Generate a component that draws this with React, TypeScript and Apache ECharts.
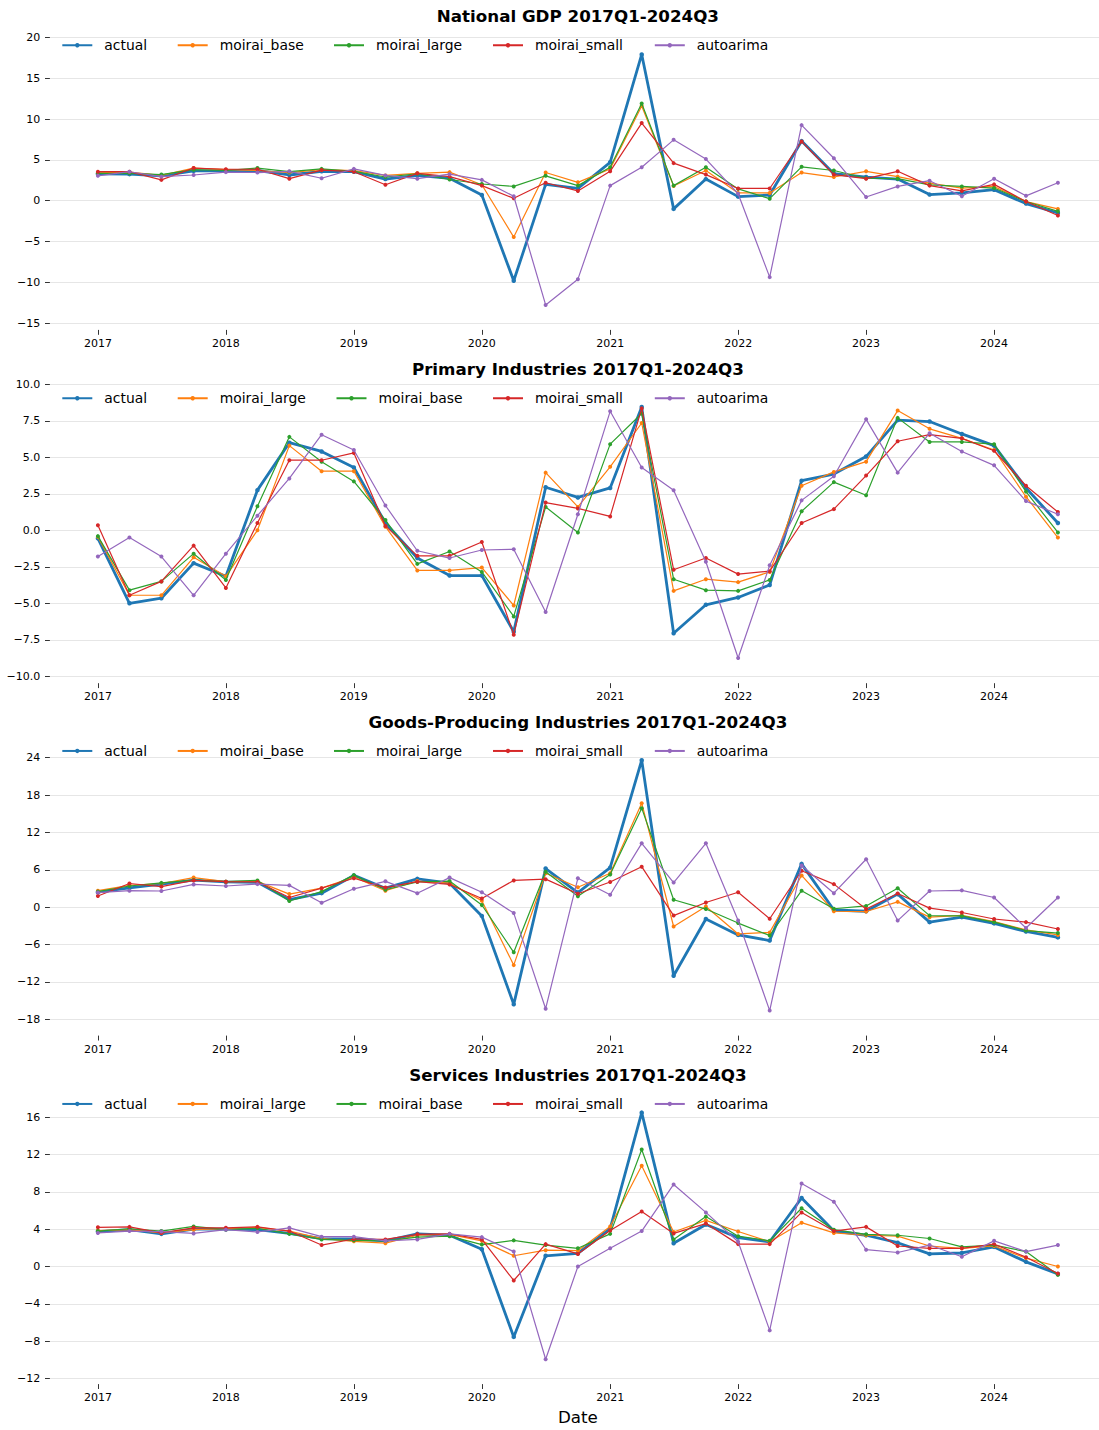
import React, { useEffect, useRef } from "react";
import * as echarts from "echarts";

const quarters = [
  "2017Q1", "2017Q2", "2017Q3", "2017Q4", "2018Q1", "2018Q2", "2018Q3", "2018Q4",
  "2019Q1", "2019Q2", "2019Q3", "2019Q4", "2020Q1", "2020Q2", "2020Q3", "2020Q4",
  "2021Q1", "2021Q2", "2021Q3", "2021Q4", "2022Q1", "2022Q2", "2022Q3", "2022Q4",
  "2023Q1", "2023Q2", "2023Q3", "2023Q4", "2024Q1", "2024Q2", "2024Q3",
];
const yearTicks = [2017, 2018, 2019, 2020, 2021, 2022, 2023, 2024];

// ---- National GDP ----
const gdpNames = ["actual", "moirai_base", "moirai_large", "moirai_small", "autoarima"];
const gdpActual = [3.3, 3.25, 3.05, 3.65, 3.65, 3.7, 3.15, 3.6, 3.55, 2.65, 3.1, 2.75, 0.7, -9.8, 2.0, 1.5, 4.7, 17.9, -1.0, 2.65, 0.5, 0.7, 7.3, 3.3, 2.9, 2.65, 0.75, 0.95, 1.35, -0.35, -1.5];
const gdpBase = [3.4, 3.5, 3.1, 4.0, 3.8, 3.7, 3.45, 3.8, 3.7, 3.1, 3.35, 3.5, 1.95, -4.45, 3.45, 2.25, 3.9, 11.6, 1.8, 3.7, 0.95, 0.95, 3.45, 2.9, 3.6, 2.95, 2.15, 1.55, 1.75, -0.1, -1.0];
const gdpLarge = [3.35, 3.35, 3.2, 3.8, 3.7, 4.0, 3.55, 3.9, 3.6, 2.9, 3.3, 2.6, 2.05, 1.75, 3.05, 1.85, 4.1, 11.9, 1.85, 4.1, 1.45, 0.25, 4.15, 3.7, 2.75, 2.7, 1.95, 1.75, 1.55, -0.1, -1.3];
const gdpSmall = [3.55, 3.55, 2.55, 4.0, 3.85, 3.85, 2.7, 3.75, 3.55, 1.95, 3.35, 2.95, 1.85, 0.3, 2.2, 1.2, 3.6, 9.5, 4.6, 3.2, 1.5, 1.5, 7.25, 3.2, 2.7, 3.6, 1.85, 1.2, 2.0, -0.1, -1.8];
const gdpArima = [3.05, 3.55, 2.95, 3.15, 3.5, 3.45, 3.6, 2.75, 3.9, 3.1, 2.7, 3.25, 2.55, 0.55, -12.75, -9.6, 1.85, 4.1, 7.45, 5.1, 0.85, -9.35, 9.25, 5.2, 0.45, 1.75, 2.45, 0.55, 2.7, 0.6, 2.2];

// ---- Primary Industries ----
const priNames = ["actual", "moirai_large", "moirai_base", "moirai_small", "autoarima"];
const priActual = [-0.55, -5.0, -4.65, -2.25, -3.15, 2.75, 6.0, 5.4, 4.3, 0.5, -1.9, -3.1, -3.1, -6.95, 2.95, 2.25, 2.9, 8.45, -7.05, -5.1, -4.6, -3.75, 3.4, 3.85, 5.05, 7.55, 7.45, 6.6, 5.8, 2.9, 0.5];
const priLarge = [-0.45, -4.45, -4.45, -1.85, -3.15, 0.0, 5.8, 4.05, 4.05, 0.25, -2.75, -2.75, -2.55, -5.15, 3.95, 1.6, 4.35, 7.35, -4.15, -3.35, -3.55, -2.85, 3.05, 4.0, 4.7, 8.2, 6.95, 6.3, 5.5, 2.3, -0.5];
const priBase = [-0.4, -4.1, -3.5, -1.6, -3.4, 1.65, 6.4, 4.7, 3.35, 0.7, -2.3, -1.45, -2.85, -5.9, 1.6, -0.15, 5.9, 8.0, -3.35, -4.1, -4.15, -3.4, 1.3, 3.3, 2.4, 7.7, 6.05, 6.05, 5.9, 2.65, -0.15];
const priSmall = [0.35, -4.45, -3.5, -1.05, -3.95, 0.5, 4.8, 4.8, 5.3, 0.3, -1.75, -1.75, -0.8, -7.15, 1.9, 1.5, 0.95, 8.35, -2.7, -1.9, -3.0, -2.8, 0.5, 1.45, 3.75, 6.1, 6.55, 6.3, 5.45, 3.05, 1.25];
const priArima = [-1.8, -0.5, -1.8, -4.45, -1.6, 1.0, 3.55, 6.55, 5.5, 1.7, -1.4, -1.9, -1.35, -1.3, -5.6, 1.1, 8.15, 4.3, 2.75, -2.15, -8.75, -2.4, 2.05, 3.7, 7.6, 3.95, 6.65, 5.4, 4.45, 2.0, 1.1];

// ---- Goods-Producing Industries ----
const goodsNames = ["actual", "moirai_base", "moirai_large", "moirai_small", "autoarima"];
const goodsActual = [2.4, 3.1, 3.7, 4.35, 4.05, 4.0, 1.2, 2.25, 5.1, 3.05, 4.55, 3.85, -1.4, -15.6, 6.2, 2.35, 6.35, 23.6, -11.0, -1.9, -4.45, -5.35, 6.95, -0.45, -0.65, 2.1, -2.4, -1.6, -2.6, -3.9, -4.85];
const goodsBase = [2.65, 3.5, 3.8, 4.75, 4.1, 4.15, 2.1, 3.05, 4.85, 2.65, 4.2, 3.85, 1.05, -9.3, 5.45, 3.2, 5.45, 16.7, -3.1, 0.1, -4.3, -4.05, 5.1, -0.65, -0.7, 0.85, -1.6, -1.3, -2.3, -3.65, -4.45];
const goodsLarge = [2.5, 3.4, 3.9, 4.35, 4.1, 4.3, 1.0, 2.5, 5.15, 2.8, 4.05, 4.2, 0.35, -7.25, 5.7, 1.75, 5.25, 15.9, 1.2, -0.3, -2.55, -4.55, 2.65, -0.25, 0.2, 3.05, -1.35, -1.4, -2.4, -3.75, -4.15];
const goodsSmall = [1.8, 3.8, 3.3, 4.3, 4.1, 4.05, 1.55, 3.05, 4.65, 3.15, 4.1, 3.65, 1.4, 4.3, 4.5, 2.15, 4.05, 6.5, -1.35, 0.75, 2.4, -1.85, 5.85, 3.7, -0.3, 2.2, -0.15, -0.85, -1.9, -2.4, -3.5];
const goodsArima = [2.35, 2.65, 2.6, 3.65, 3.4, 3.7, 3.5, 0.7, 2.95, 4.15, 2.25, 4.75, 2.4, -0.95, -16.3, 4.65, 2.0, 10.25, 3.95, 10.25, -2.15, -16.6, 6.7, 2.25, 7.7, -2.15, 2.6, 2.7, 1.55, -3.35, 1.55];

// ---- Services Industries ----
const servNames = ["actual", "moirai_large", "moirai_base", "moirai_small", "autoarima"];
const servActual = [3.75, 3.95, 3.5, 4.0, 4.0, 3.95, 3.55, 3.0, 2.95, 2.75, 3.5, 3.35, 1.85, -7.55, 1.15, 1.4, 4.05, 16.5, 2.5, 4.5, 3.1, 2.65, 7.35, 3.8, 3.35, 2.55, 1.35, 1.45, 2.1, 0.5, -0.8];
const servLarge = [3.85, 3.95, 3.6, 3.95, 4.05, 4.2, 3.8, 3.0, 2.7, 2.5, 3.35, 3.45, 2.75, 1.15, 1.75, 1.7, 4.3, 10.8, 3.7, 4.95, 3.75, 2.65, 4.7, 3.6, 3.35, 3.25, 2.2, 1.95, 2.2, 0.9, 0.0];
const servBase = [3.8, 4.05, 3.8, 4.3, 3.95, 4.1, 3.5, 2.9, 2.8, 2.75, 3.15, 3.25, 2.35, 2.8, 2.3, 1.95, 3.5, 12.55, 2.9, 5.35, 3.25, 2.75, 6.25, 3.95, 3.45, 3.35, 3.0, 2.1, 2.3, 1.6, -0.9];
const servSmall = [4.2, 4.25, 3.6, 4.15, 4.15, 4.25, 3.8, 2.3, 2.95, 2.9, 3.45, 3.5, 2.9, -1.5, 2.4, 1.35, 3.85, 5.9, 3.55, 4.6, 2.4, 2.4, 5.8, 3.8, 4.25, 2.2, 1.95, 1.95, 2.4, 1.0, -0.75];
const servArima = [3.6, 3.8, 3.75, 3.55, 3.95, 3.7, 4.15, 3.2, 3.2, 2.75, 2.9, 3.5, 3.15, 1.6, -9.95, 0.0, 1.95, 3.8, 8.8, 5.8, 2.65, -6.85, 8.9, 6.95, 1.8, 1.5, 2.3, 1.05, 2.75, 1.6, 2.3];

const COLORS = ["#1f77b4", "#ff7f0e", "#2ca02c", "#d62728", "#9467bd"];
const FONT = "'DejaVu Sans', 'Liberation Sans', sans-serif";

const quarterTs = quarters.map((q) =>
  Date.UTC(parseInt(q.slice(0, 4), 10), (parseInt(q.slice(5), 10) - 1) * 3, 1)
);
const yearTs = yearTicks.map((y) => Date.UTC(y, 0, 1));
const t0 = quarterTs[0];
const t1 = quarterTs[quarterTs.length - 1];
const X_MIN = t0 - 0.05 * (t1 - t0);
const X_MAX = t1 + 0.05 * (t1 - t0);

type PanelCfg = {
  title: string;
  names: string[];
  values: number[][];
  yMin: number;
  yMax: number;
  yInterval: number;
  decimals: number;
  divTop: number;
  divHeight: number;
  titleCenter: number;
  legendCenter: number;
  legendLefts: number[];
  gridTop: number;
  gridHeight: number;
  xOffset: number;
  showDate: boolean;
};

const LEG_A = [61.3, 176.7, 333, 492, 653.8];
const LEG_B = [61.3, 176.7, 335.5, 492, 653.8];

const panels: PanelCfg[] = [
  {
    title: "National GDP 2017Q1-2024Q3",
    names: gdpNames,
    values: [gdpActual, gdpBase, gdpLarge, gdpSmall, gdpArima],
    yMin: -15, yMax: 20, yInterval: 5, decimals: 0,
    divTop: 0, divHeight: 353,
    titleCenter: 16, legendCenter: 41, legendLefts: LEG_A,
    gridTop: 37.3, gridHeight: 286, xOffset: 6.6, showDate: false,
  },
  {
    title: "Primary Industries 2017Q1-2024Q3",
    names: priNames,
    values: [priActual, priLarge, priBase, priSmall, priArima],
    yMin: -10, yMax: 10, yInterval: 2.5, decimals: 1,
    divTop: 353, divHeight: 353,
    titleCenter: 16, legendCenter: 41, legendLefts: LEG_B,
    gridTop: 31.3, gridHeight: 292, xOffset: 6.9, showDate: false,
  },
  {
    title: "Goods-Producing Industries 2017Q1-2024Q3",
    names: goodsNames,
    values: [goodsActual, goodsBase, goodsLarge, goodsSmall, goodsArima],
    yMin: -18, yMax: 24, yInterval: 6, decimals: 0,
    divTop: 706, divHeight: 353,
    titleCenter: 16, legendCenter: 40.7, legendLefts: LEG_A,
    gridTop: 51.7, gridHeight: 261.6, xOffset: 16.3, showDate: false,
  },
  {
    title: "Services Industries 2017Q1-2024Q3",
    names: servNames,
    values: [servActual, servLarge, servBase, servSmall, servArima],
    yMin: -12, yMax: 16, yInterval: 4, decimals: 0,
    divTop: 1059, divHeight: 371,
    titleCenter: 15.7, legendCenter: 40.7, legendLefts: LEG_B,
    gridTop: 58.3, gridHeight: 266, xOffset: 5.7, showDate: true,
  },
];

const DIV_WIDTH = 1112;
const GRID_LEFT = 49.9;
const GRID_WIDTH = 1056;
const AXES_CENTER = GRID_LEFT + GRID_WIDTH / 2;

function buildOption(p: PanelCfg) {
  const legendItemH = 5.5;
  return {
    animation: false,
    backgroundColor: "transparent",
    title: {
      text: p.title,
      left: AXES_CENTER,
      top: p.titleCenter - 10,
      textAlign: "center",
      padding: 0,
      textStyle: {
        fontFamily: FONT,
        fontSize: 16.7,
        fontWeight: "bold",
        color: "#000",
        lineHeight: 20,
      },
    },
    legend: p.names.map((n, i) => ({
      data: [n],
      left: p.legendLefts[i],
      top: p.legendCenter - legendItemH / 2,
      padding: 0,
      itemWidth: 30,
      itemHeight: legendItemH,
      selectedMode: false,
      textStyle: {
        fontFamily: FONT,
        fontSize: 13.9,
        color: "#000",
        padding: [0, 0, 0, 7],
      },
    })),
    grid: {
      left: GRID_LEFT,
      top: p.gridTop,
      width: GRID_WIDTH,
      height: p.gridHeight,
    },
    xAxis: {
      type: "value",
      min: X_MIN,
      max: X_MAX,
      position: "bottom",
      offset: p.xOffset,
      axisLine: { show: false, onZero: false },
      splitLine: { show: false },
      axisTick: {
        show: true,
        customValues: yearTs,
        length: 4.9,
        lineStyle: { color: "#000", width: 0.8 },
      },
      axisLabel: {
        customValues: yearTs,
        formatter: (v: number) => String(new Date(v).getUTCFullYear()),
        margin: 8,
        fontSize: 11,
        fontFamily: FONT,
        color: "#000",
      },
      name: p.showDate ? "Date" : "",
      nameLocation: "middle",
      nameGap: 21,
      nameTextStyle: { fontFamily: FONT, fontSize: 16.7, color: "#000" },
    },
    yAxis: {
      type: "value",
      min: p.yMin,
      max: p.yMax,
      interval: p.yInterval,
      axisLine: { show: false, onZero: false },
      axisTick: {
        show: true,
        length: 4.9,
        lineStyle: { color: "#000", width: 0.8 },
      },
      axisLabel: {
        margin: 9.7,
        fontSize: 11,
        fontFamily: FONT,
        color: "#000",
        formatter: (v: number) => v.toFixed(p.decimals).replace("-", "\u2212"),
      },
      splitLine: {
        show: true,
        lineStyle: { color: "#e6e6e6", width: 1 },
      },
    },
    series: p.names.map((n, i) => ({
      type: "line",
      name: n,
      data: quarterTs.map((t, j) => [t, p.values[i][j]]),
      color: COLORS[i],
      symbol: "circle",
      symbolSize: i === 0 ? 4.5 : 4,
      showSymbol: true,
      clip: false,
      lineStyle: { width: i === 0 ? 2.8 : 1.2, color: COLORS[i] },
      itemStyle: { color: COLORS[i] },
      emphasis: { disabled: true },
      z: 2 + i,
    })),
  };
}

function Panel({ cfg }: { cfg: PanelCfg }) {
  const ref = useRef<HTMLDivElement | null>(null);
  useEffect(() => {
    if (!ref.current) return;
    const chart = echarts.init(ref.current, null, { renderer: "svg" });
    chart.setOption(buildOption(cfg) as any);
    return () => {
      chart.dispose();
    };
  }, [cfg]);
  return (
    <div
      ref={ref}
      style={{
        position: "absolute",
        left: 0,
        top: cfg.divTop,
        width: DIV_WIDTH,
        height: cfg.divHeight,
      }}
    />
  );
}

export default function App() {
  return (
    <div
      style={{
        position: "absolute",
        left: 0,
        top: 0,
        width: 1099,
        height: 1430,
        background: "#ffffff",
        overflow: "hidden",
      }}
    >
      {panels.map((p) => (
        <Panel key={p.title} cfg={p} />
      ))}
    </div>
  );
}
